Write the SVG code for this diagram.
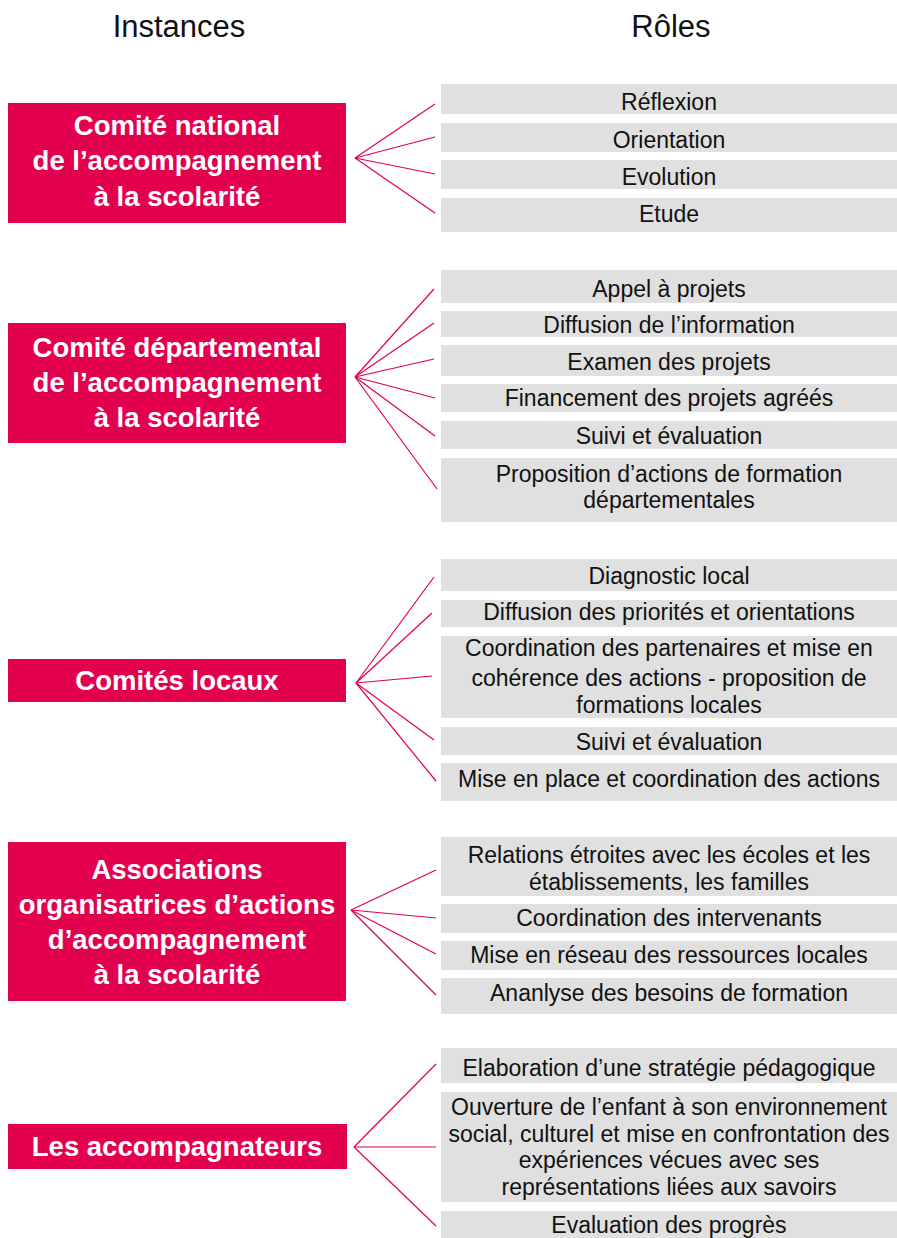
<svg xmlns="http://www.w3.org/2000/svg" width="897" height="1238" viewBox="0 0 897 1238">
<style>
.hdr{font-family:"Liberation Sans",Arial,sans-serif;font-size:31px;fill:#111;text-anchor:middle}
.inst rect{fill:#E2004F}
.inst text{font-family:"Liberation Sans",Arial,sans-serif;font-size:27.5px;font-weight:bold;fill:#fff;text-anchor:middle}
.role rect{fill:#E0E0E0}
.role text{font-family:"Liberation Sans",Arial,sans-serif;font-size:23px;fill:#111;text-anchor:middle}
.conn line{stroke:#E2004F;stroke-width:1.2;fill:none}
</style>
<rect width="897" height="1238" fill="#fff"/>
<text class="hdr" x="179" y="37">Instances</text>
<text class="hdr" x="671" y="37">Rôles</text>

<g id="connectors" class="conn">
<line x1="355" y1="158" x2="435" y2="104"/>
<line x1="355" y1="158" x2="435" y2="137"/>
<line x1="355" y1="158" x2="435" y2="174"/>
<line x1="355" y1="158" x2="435" y2="213"/>
<line x1="355" y1="377" x2="434" y2="289"/>
<line x1="355" y1="377" x2="434" y2="323"/>
<line x1="355" y1="377" x2="434" y2="359"/>
<line x1="355" y1="377" x2="435" y2="398"/>
<line x1="355" y1="377" x2="435" y2="436"/>
<line x1="355" y1="377" x2="437" y2="489"/>
<line x1="356" y1="683" x2="434" y2="577"/>
<line x1="356" y1="683" x2="432" y2="613"/>
<line x1="356" y1="683" x2="432" y2="676"/>
<line x1="356" y1="683" x2="434" y2="740"/>
<line x1="356" y1="683" x2="436" y2="781"/>
<line x1="351" y1="910" x2="436" y2="870"/>
<line x1="351" y1="910" x2="436" y2="918"/>
<line x1="351" y1="910" x2="436" y2="954"/>
<line x1="351" y1="910" x2="436" y2="995"/>
<line x1="354" y1="1147" x2="436" y2="1064"/>
<line x1="354" y1="1147" x2="436" y2="1147"/>
<line x1="354" y1="1147" x2="436" y2="1226"/>
</g>

<g id="inst-national" class="inst">
<rect x="8" y="103" width="338" height="120"/>
<text x="177" y="135">Comité national</text>
<text x="177" y="170">de l’accompagnement</text>
<text x="177" y="206">à la scolarité</text>
</g>
<g id="inst-departemental" class="inst">
<rect x="8" y="323" width="338" height="120"/>
<text x="177" y="357">Comité départemental</text>
<text x="177" y="392">de l’accompagnement</text>
<text x="177" y="427">à la scolarité</text>
</g>
<g id="inst-locaux" class="inst">
<rect x="8" y="659" width="338" height="43"/>
<text x="177" y="690">Comités locaux</text>
</g>
<g id="inst-associations" class="inst">
<rect x="8" y="842" width="338" height="159"/>
<text x="177" y="879">Associations</text>
<text x="177" y="914">organisatrices d’actions</text>
<text x="177" y="949">d’accompagnement</text>
<text x="177" y="984">à la scolarité</text>
</g>
<g id="inst-accompagnateurs" class="inst">
<rect x="8" y="1124" width="339" height="45"/>
<text x="177" y="1156">Les accompagnateurs</text>
</g>

<g id="role-reflexion" class="role"><rect x="441" y="84" width="456" height="30"/><text x="669" y="110">Réflexion</text></g>
<g id="role-orientation" class="role"><rect x="441" y="123" width="456" height="29"/><text x="669" y="148">Orientation</text></g>
<g id="role-evolution" class="role"><rect x="441" y="160" width="456" height="29"/><text x="669" y="185">Evolution</text></g>
<g id="role-etude" class="role"><rect x="441" y="198" width="456" height="34"/><text x="669" y="222">Etude</text></g>

<g id="role-appel" class="role"><rect x="441" y="270" width="456" height="33"/><text x="669" y="297">Appel à projets</text></g>
<g id="role-diffusion-info" class="role"><rect x="441" y="311" width="456" height="26"/><text x="669" y="333">Diffusion de l’information</text></g>
<g id="role-examen" class="role"><rect x="441" y="345" width="456" height="31"/><text x="669" y="370">Examen des projets</text></g>
<g id="role-financement" class="role"><rect x="441" y="384" width="456" height="28"/><text x="669" y="406">Financement des projets agréés</text></g>
<g id="role-suivi-dep" class="role"><rect x="441" y="421" width="456" height="28"/><text x="669" y="444">Suivi et évaluation</text></g>
<g id="role-proposition" class="role"><rect x="441" y="458" width="456" height="64"/><text x="669" y="482">Proposition d’actions de formation</text><text x="669" y="508">départementales</text></g>

<g id="role-diagnostic" class="role"><rect x="441" y="559" width="456" height="32"/><text x="669" y="584">Diagnostic local</text></g>
<g id="role-diffusion-prio" class="role"><rect x="441" y="600" width="456" height="27"/><text x="669" y="620">Diffusion des priorités et orientations</text></g>
<g id="role-coordination-part" class="role"><rect x="441" y="636" width="456" height="82"/><text x="669" y="656">Coordination des partenaires et mise en</text><text x="669" y="686">cohérence des actions - proposition de</text><text x="669" y="713">formations locales</text></g>
<g id="role-suivi-loc" class="role"><rect x="441" y="727" width="456" height="28"/><text x="669" y="750">Suivi et évaluation</text></g>
<g id="role-mise-en-place" class="role"><rect x="441" y="763" width="456" height="38"/><text x="669" y="787">Mise en place et coordination des actions</text></g>

<g id="role-relations" class="role"><rect x="441" y="837" width="456" height="59"/><text x="669" y="863">Relations étroites avec les écoles et les</text><text x="669" y="890">établissements, les familles</text></g>
<g id="role-coordination-int" class="role"><rect x="441" y="904" width="456" height="29"/><text x="669" y="926">Coordination des intervenants</text></g>
<g id="role-reseau" class="role"><rect x="441" y="941" width="456" height="29"/><text x="669" y="963">Mise en réseau des ressources locales</text></g>
<g id="role-besoins" class="role"><rect x="441" y="978" width="456" height="36"/><text x="669" y="1001">Ananlyse des besoins de formation</text></g>

<g id="role-elaboration" class="role"><rect x="441" y="1048" width="456" height="35"/><text x="669" y="1076">Elaboration d’une stratégie pédagogique</text></g>
<g id="role-ouverture" class="role"><rect x="441" y="1092" width="456" height="110"/><text x="669" y="1115">Ouverture de l’enfant à son environnement</text><text x="669" y="1142">social, culturel et mise en confrontation des</text><text x="669" y="1168">expériences vécues avec ses</text><text x="669" y="1195">représentations liées aux savoirs</text></g>
<g id="role-evaluation" class="role"><rect x="441" y="1211" width="456" height="27"/><text x="669" y="1233">Evaluation des progrès</text></g>
</svg>
